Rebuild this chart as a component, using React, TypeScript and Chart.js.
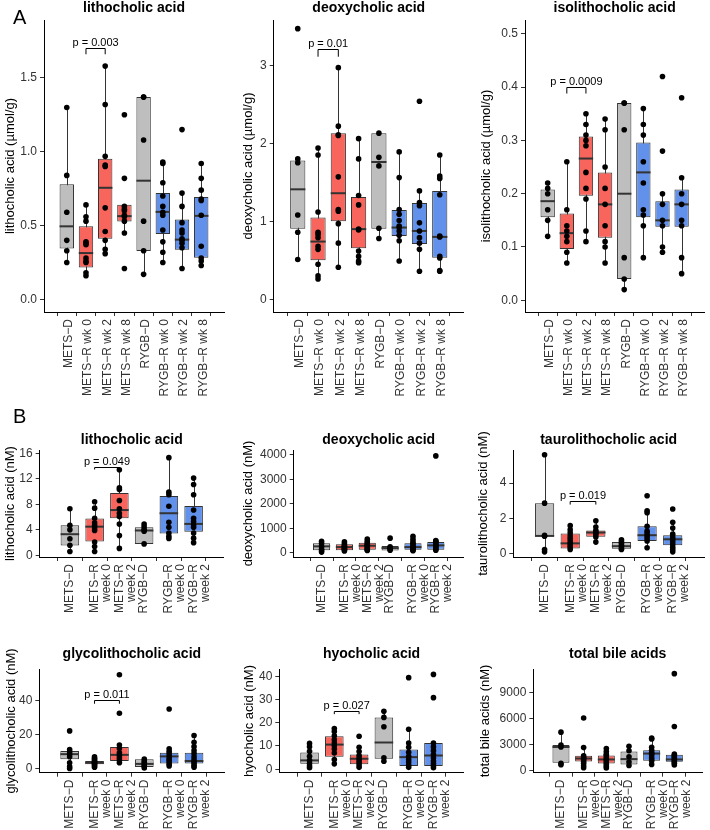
import React, { useEffect, useRef } from "react";
import { Chart, registerables } from "chart.js";

Chart.register(...registerables);

const FONT = "'Liberation Sans', Arial, Helvetica, sans-serif";
Chart.defaults.font.family = FONT;

const GRAY = "#BEBEBE";
const RED = "#F8655C";
const BLUE = "#6191EA";

// ---------- categories ----------
const catsA = ["METS−D", "METS−R wk 0", "METS−R wk 2", "METS−R wk 8", "RYGB−D", "RYGB−R wk 0", "RYGB−R wk 2", "RYGB−R wk 8"];
const colorsA = [GRAY, RED, RED, RED, GRAY, BLUE, BLUE, BLUE];
const catsB: (string | string[])[] = ["METS−D", ["METS−R", "week 0"], ["METS−R", "week 2"], "RYGB−D", ["RYGB−R", "week 0"], ["RYGB−R", "week 2"]];
const colorsB = [GRAY, RED, RED, GRAY, BLUE, BLUE];

// ---------- box summaries [lower whisker, q1, median, q3, upper whisker] and points ----------
// A: lithocholic acid (µmol/g)
const aLcaBox = [[0.25, 0.345, 0.495, 0.78, 1.3], [0.16, 0.216, 0.314, 0.495, 0.64], [0.31, 0.411, 0.756, 0.953, 1.58], [0.45, 0.527, 0.564, 0.641, 0.641], [0.17, 0.328, 0.804, 1.37, 1.37], [0.25, 0.443, 0.593, 0.72, 0.92], [0.21, 0.336, 0.405, 0.541, 0.72], [0.23, 0.282, 0.566, 0.693, 0.92]];
const aLcaPts = [[1.3, 0.84, 0.59, 0.4, 0.33, 0.25], [0.64, 0.56, 0.53, 0.39, 0.38, 0.37, 0.28, 0.26, 0.25, 0.18, 0.16], [1.58, 1.32, 0.97, 0.91, 0.9, 0.62, 0.46, 0.4, 0.34, 0.31], [1.25, 0.82, 0.63, 0.61, 0.6, 0.57, 0.56, 0.53, 0.45, 0.21], [1.37, 1.37, 1.08, 0.53, 0.33, 0.17], [0.93, 0.92, 0.79, 0.7, 0.63, 0.59, 0.57, 0.47, 0.39, 0.32, 0.25], [1.15, 0.72, 0.63, 0.52, 0.47, 0.45, 0.41, 0.4, 0.38, 0.35, 0.21], [0.92, 0.82, 0.74, 0.68, 0.67, 0.57, 0.36, 0.28, 0.26, 0.23]];
// A: deoxycholic acid (µmol/g)
const aDcaBox = [[0.51, 0.906, 1.41, 1.78, 1.8], [0.26, 0.5, 0.74, 1.05, 1.94], [0.41, 1.0, 1.36, 2.13, 2.97], [0.47, 0.655, 0.9, 1.31, 2.06], [0.78, 0.906, 1.76, 2.13, 2.13], [0.49, 0.81, 0.92, 1.145, 1.89], [0.36, 0.71, 0.876, 1.235, 1.39], [0.36, 0.534, 0.8, 1.39, 1.85]];
const aDcaPts = [[3.47, 1.8, 1.75, 1.08, 0.86, 0.51], [1.94, 1.85, 1.12, 0.86, 0.83, 0.79, 0.68, 0.64, 0.45, 0.3, 0.26], [2.97, 2.22, 2.11, 2.1, 1.57, 1.15, 1.13, 0.97, 0.72, 0.41], [2.06, 1.8, 1.33, 1.21, 0.9, 0.89, 0.62, 0.55, 0.49, 0.47], [2.13, 1.82, 1.71, 0.91, 0.78], [1.89, 1.56, 1.15, 1.09, 1.01, 0.94, 0.92, 0.875, 0.82, 0.75, 0.49], [2.54, 1.39, 1.24, 1.2, 0.98, 0.875, 0.79, 0.72, 0.64, 0.36], [1.85, 1.58, 1.55, 1.34, 0.81, 0.8, 0.55, 0.53, 0.37, 0.36]];
// A: isolithocholic acid (µmol/g)
const aIsoBox = [[0.12, 0.156, 0.186, 0.208, 0.22], [0.07, 0.096, 0.126, 0.163, 0.26], [0.11, 0.196, 0.266, 0.3075, 0.35], [0.07, 0.1175, 0.18, 0.24, 0.34], [0.02, 0.04, 0.2, 0.37, 0.37], [0.08, 0.156, 0.24, 0.296, 0.36], [0.09, 0.138, 0.15, 0.186, 0.2], [0.05, 0.138, 0.18, 0.208, 0.23]];
const aIsoPts = [[0.22, 0.21, 0.2, 0.17, 0.15, 0.12], [0.26, 0.17, 0.14, 0.13, 0.12, 0.11, 0.09, 0.07], [0.35, 0.33, 0.31, 0.3, 0.29, 0.24, 0.21, 0.19, 0.13, 0.11], [0.34, 0.32, 0.25, 0.21, 0.18, 0.14, 0.11, 0.1, 0.07], [0.37, 0.37, 0.32, 0.08, 0.04, 0.02], [0.36, 0.33, 0.31, 0.26, 0.22, 0.17, 0.16, 0.14, 0.08], [0.42, 0.28, 0.2, 0.18, 0.15, 0.14, 0.1, 0.09], [0.38, 0.23, 0.2, 0.18, 0.15, 0.14, 0.08, 0.05]];
// B: lithocholic acid (nM)
const bLcaBox = [[0.6, 1.56, 3.32, 4.73, 7.3], [0.6, 2.18, 4.5, 5.77, 8.4], [1.1, 5.82, 7.1, 9.77, 13.4], [1.77, 1.77, 3.9, 4.4, 4.9], [2.65, 3.43, 6.6, 9.3, 15.3], [2.0, 3.69, 4.93, 7.74, 12.1]];
const bLcaPts = [[7.3, 4.7, 4.0, 2.6, 1.6, 0.6], [8.4, 7.4, 5.8, 5.1, 4.7, 4.3, 3.9, 2.1, 1.4, 0.6], [13.4, 10.6, 10.3, 8.6, 7.3, 6.6, 6.1, 4.9, 3.1, 1.1], [4.9, 4.5, 4.1, 3.8, 1.8], [15.3, 9.9, 9.5, 7.7, 5.2, 4.4, 3.5, 3.0, 2.65], [12.1, 11.1, 9.5, 7.1, 5.8, 5.3, 4.8, 4.4, 3.5, 2.7, 2.0]];
// B: deoxycholic acid (nM)
const bDcaBox = [[30, 110, 265, 395, 470], [80, 110, 235, 350, 450], [100, 125, 290, 415, 560], [100, 100, 195, 280, 280], [90, 125, 235, 390, 680], [110, 125, 305, 445, 500]];
const bDcaPts = [[470, 380, 260, 150, 90, 30], [450, 380, 320, 280, 250, 220, 190, 150, 120, 80], [560, 460, 400, 350, 310, 280, 230, 170, 130, 100], [600, 250, 200, 160, 110], [680, 560, 450, 390, 330, 280, 240, 210, 180, 140, 120, 90], [3960, 500, 470, 430, 380, 330, 290, 250, 200, 150, 110]];
// B: taurolithocholic acid (nM)
const bTlcaBox = [[0.12, 1.0, 1.02, 2.87, 5.6], [0.25, 0.31, 0.6, 1.15, 1.6], [0.67, 0.98, 1.21, 1.33, 1.87], [0.25, 0.3, 0.44, 0.67, 0.8], [0.35, 0.73, 1.06, 1.56, 2.44], [0.12, 0.5, 0.83, 1.06, 1.79]];
const bTlcaPts = [[5.6, 2.87, 1.05, 1.0, 0.25, 0.12], [1.6, 1.37, 1.2, 1.02, 0.87, 0.73, 0.6, 0.48, 0.38, 0.25], [1.87, 1.52, 1.33, 1.25, 1.17, 1.08, 0.96, 0.67], [0.8, 0.7, 0.6, 0.5, 0.4, 0.3, 0.25], [3.29, 2.44, 2.33, 1.56, 1.29, 1.15, 1.02, 0.88, 0.73, 0.35], [2.54, 1.79, 1.46, 1.12, 0.96, 0.83, 0.69, 0.54, 0.38, 0.25, 0.12]];
// B: glycolithocholic acid (nM)
const bGlcaBox = [[0.2, 5.55, 8.6, 10.5, 11.3], [1.0, 2.7, 3.6, 4.6, 7.0], [3.6, 4.6, 8.2, 12.8, 14.0], [0.5, 1.15, 2.9, 5.55, 5.8], [1.7, 3.1, 7.3, 9.4, 11.7], [1.0, 3.1, 4.6, 9.4, 19.5]];
const bGlcaPts = [[22.2, 11.3, 9.95, 8.6, 7.1, 3.6, 1.3, 0.2], [7.0, 6.2, 5.5, 4.8, 4.2, 3.7, 3.2, 2.8, 2.2, 1.6, 1.0], [55.1, 32.5, 14.0, 11.9, 9.4, 8.0, 6.5, 5.2, 3.6], [5.8, 4.8, 3.9, 2.9, 2.0, 1.2, 0.5], [35.0, 11.7, 10.3, 9.0, 7.5, 6.1, 5.0, 3.8, 2.7, 1.7], [19.5, 15.5, 13.0, 10.7, 9.0, 7.1, 5.4, 4.2, 3.1, 1.9, 1.0]];
// B: hyocholic acid (nM)
const bHcaBox = [[0.6, 2.4, 3.8, 7.2, 11.1], [2.3, 5.35, 10.6, 14.2, 17.5], [0.8, 2.1, 4.5, 6.3, 9.4], [3.4, 4.5, 11.5, 22.3, 24.9], [0.8, 1.4, 5.2, 8.5, 17.2], [0.6, 1.4, 5.9, 11.3, 11.3]];
const bHcaPts = [[11.1, 9.7, 7.7, 5.6, 3.8, 2.5, 1.4, 0.6], [17.5, 16.2, 14.4, 12.7, 11.3, 10.1, 8.7, 7.0, 4.2, 2.3], [14.2, 9.4, 7.6, 5.9, 4.8, 3.8, 2.8, 1.8, 0.8], [24.9, 22.3, 18.3, 4.9, 3.4], [39.4, 17.2, 11.3, 9.4, 7.3, 5.6, 4.2, 3.1, 1.8, 0.8], [40.8, 30.8, 11.3, 9.6, 8.0, 6.3, 4.9, 3.5, 2.4, 1.4, 0.6]];
// B: total bile acids (nM)
const bTotBox = [[680, 910, 2730, 2960, 4440], [340, 1060, 1400, 1710, 2660], [300, 835, 1290, 1750, 2550], [600, 720, 1330, 2200, 2800], [700, 1140, 1970, 2350, 3750], [650, 1020, 1290, 1820, 1900]];
const bTotPts = [[4440, 2960, 2730, 835, 680], [6075, 2660, 1710, 1550, 1400, 1250, 1060, 850, 570, 340], [2550, 2200, 1900, 1750, 1500, 1300, 1100, 900, 700, 500, 300], [2800, 2300, 1600, 1000, 600], [3750, 3650, 2700, 2350, 2100, 1950, 1800, 1500, 1250, 1100, 700], [11200, 5100, 1900, 1750, 1600, 1450, 1300, 1150, 1000, 850, 650]];

// ---------- y ticks ----------
const ticksALca = [0, 0.5, 1, 1.5];
const labelsALca = ["0.0", "0.5", "1.0", "1.5"];
const ticksADca = [0, 1, 2, 3];
const labelsADca = ["0", "1", "2", "3"];
const ticksAIso = [0, 0.1, 0.2, 0.3, 0.4, 0.5];
const labelsAIso = ["0.0", "0.1", "0.2", "0.3", "0.4", "0.5"];
const ticksBLca = [0, 4, 8, 12, 16];
const ticksBDca = [0, 1000, 2000, 3000, 4000];
const ticksBTlca = [0, 2, 4];
const ticksBGlca = [0, 20, 40];
const ticksBHca = [0, 10, 20, 30, 40];
const ticksBTot = [0, 3000, 6000, 9000];

type PVal = { a: number; b: number; y: number; tick: number; text: string };
type Panel = {
  left: number; top: number; w: number; h: number;
  axisLeft: number; areaRight: number; areaTop: number; areaBottom: number;
  titleCenter: number; yTitleX: number; labelOffset: number;
  title: string; yTitle: string;
  cats: (string | string[])[]; colors: string[];
  boxes: number[][]; pts: number[][];
  yMin: number; yMax: number; yTicks: number[]; yLabels: string[];
  p?: PVal;
};

const str = (a: number[]) => a.map((v) => String(v));

const rowA = { top: 0, h: 400, areaTop: 20, areaBottom: 312, titleCenter: 8.5, labelOffset: 2 };
const rowB1 = { top: 400, h: 225, areaTop: 50, areaBottom: 157, titleCenter: 40.5, labelOffset: 0 };
const rowB2 = { top: 625, h: 205, areaTop: 44.3, areaBottom: 147.7, titleCenter: 29.5, labelOffset: 0 };

const panels: Panel[] = [
  { ...rowA, left: 0, w: 237, axisLeft: 44, areaRight: 224, yTitleX: 10, title: "lithocholic acid", yTitle: "lithocholic acid (µmol/g)", cats: catsA, colors: colorsA, boxes: aLcaBox, pts: aLcaPts, yMin: -0.085, yMax: 1.892, yTicks: ticksALca, yLabels: labelsALca, p: { a: 1, b: 2, y: 1.7, tick: 1.66, text: "p = 0.003" } },
  { ...rowA, left: 237, w: 237, axisLeft: 36.7, areaRight: 226.8, yTitleX: 11, title: "deoxycholic acid", yTitle: "deoxycholic acid (µmol/g)", cats: catsA, colors: colorsA, boxes: aDcaBox, pts: aDcaPts, yMin: -0.163, yMax: 3.581, yTicks: ticksADca, yLabels: labelsADca, p: { a: 1, b: 2, y: 3.21, tick: 3.11, text: "p = 0.01" } },
  { ...rowA, left: 474, w: 236, axisLeft: 51, areaRight: 230.3, yTitleX: 12.7, title: "isolithocholic acid", yTitle: "isolithocholic acid (µmol/g)", cats: catsA, colors: colorsA, boxes: aIsoBox, pts: aIsoPts, yMin: -0.022, yMax: 0.526, yTicks: ticksAIso, yLabels: labelsAIso, p: { a: 1, b: 2, y: 0.4, tick: 0.388, text: "p = 0.0009" } },
  { ...rowB1, left: 0, w: 237, axisLeft: 39.7, areaRight: 223.8, yTitleX: 10, title: "lithocholic acid", yTitle: "lithocholic acid (nM)", cats: catsB, colors: colorsB, boxes: bLcaBox, pts: bLcaPts, yMin: -0.25, yMax: 16.5, yTicks: ticksBLca, yLabels: str(ticksBLca), p: { a: 1, b: 2, y: 13.9, tick: 13.45, text: "p = 0.049" } },
  { ...rowB1, left: 237, w: 237, axisLeft: 56.7, areaRight: 226.7, yTitleX: 11, title: "deoxycholic acid", yTitle: "deoxycholic acid (nM)", cats: catsB, colors: colorsB, boxes: bDcaBox, pts: bDcaPts, yMin: -170, yMax: 4200, yTicks: ticksBDca, yLabels: str(ticksBDca) },
  { ...rowB1, left: 474, w: 236, axisLeft: 39.3, areaRight: 230, yTitleX: 9, title: "taurolithocholic acid", yTitle: "taurolithocholic acid (nM)", cats: catsB, colors: colorsB, boxes: bTlcaBox, pts: bTlcaPts, yMin: -0.17, yMax: 5.87, yTicks: ticksBTlca, yLabels: str(ticksBTlca), p: { a: 1, b: 2, y: 3.0, tick: 2.79, text: "p = 0.019" } },
  { ...rowB2, left: 0, w: 237, axisLeft: 39.3, areaRight: 224.4, yTitleX: 11, title: "glycolithocholic acid", yTitle: "glycolithocholic acid (nM)", cats: catsB, colors: colorsB, boxes: bGlcaBox, pts: bGlcaPts, yMin: -2.25, yMax: 58.25, yTicks: ticksBGlca, yLabels: str(ticksBGlca), p: { a: 1, b: 2, y: 40, tick: 38.1, text: "p = 0.011" } },
  { ...rowB2, left: 237, w: 237, axisLeft: 42.3, areaRight: 226.7, yTitleX: 12.5, title: "hyocholic acid", yTitle: "hyocholic acid (nM)", cats: catsB, colors: colorsB, boxes: bHcaBox, pts: bHcaPts, yMin: -1.5, yMax: 43, yTicks: ticksBHca, yLabels: str(ticksBHca), p: { a: 1, b: 2, y: 25.1, tick: 23.7, text: "p = 0.027" } },
  { ...rowB2, left: 474, w: 236, axisLeft: 59.3, areaRight: 228, yTitleX: 11, title: "total bile acids", yTitle: "total bile acids (nM)", cats: catsB, colors: colorsB, boxes: bTotBox, pts: bTotPts, yMin: -240, yMax: 11700, yTicks: ticksBTot, yLabels: str(ticksBTot) },
];

const boxExtras = {
  id: "boxExtras",
  beforeDatasetsDraw(chart: any, _args: any, opts: any) {
    const { ctx } = chart;
    const x = chart.scales.x;
    const y = chart.scales.y;
    ctx.save();
    ctx.strokeStyle = "#333333";
    ctx.lineWidth = 1;
    (opts.boxes as number[][]).forEach((b, i) => {
      const px = Math.round(x.getPixelForValue(i)) + 0.5;
      ctx.beginPath();
      ctx.moveTo(px, y.getPixelForValue(b[0]));
      ctx.lineTo(px, y.getPixelForValue(b[4]));
      ctx.stroke();
    });
    ctx.restore();
  },
  afterDatasetDraw(chart: any, args: any, opts: any) {
    if (args.index !== 0) return;
    const { ctx } = chart;
    const y = chart.scales.y;
    const meta = chart.getDatasetMeta(0);
    ctx.save();
    ctx.strokeStyle = "#333333";
    ctx.lineWidth = 2;
    meta.data.forEach((el: any, i: number) => {
      const b = opts.boxes[i];
      const py = y.getPixelForValue(b[2]);
      ctx.beginPath();
      ctx.moveTo(el.x - el.width / 2, py);
      ctx.lineTo(el.x + el.width / 2, py);
      ctx.stroke();
    });
    ctx.restore();
  },
  afterDatasetsDraw(chart: any, _args: any, opts: any) {
    const p = opts.p as PVal | undefined;
    if (!p) return;
    const { ctx } = chart;
    const x = chart.scales.x;
    const y = chart.scales.y;
    const x1 = x.getPixelForValue(p.a);
    const x2 = x.getPixelForValue(p.b);
    const yb = Math.round(y.getPixelForValue(p.y)) + 0.5;
    const yt = y.getPixelForValue(p.tick);
    ctx.save();
    ctx.strokeStyle = "#000";
    ctx.lineWidth = 1;
    ctx.beginPath();
    ctx.moveTo(x1, yt);
    ctx.lineTo(x1, yb);
    ctx.lineTo(x2, yb);
    ctx.lineTo(x2, yt);
    ctx.stroke();
    ctx.fillStyle = "#000";
    ctx.font = `11px ${FONT}`;
    ctx.textAlign = "center";
    ctx.textBaseline = "alphabetic";
    ctx.fillText(p.text, (x1 + x2) / 2, yb - 3);
    ctx.restore();
  },
};

function BoxPanel({ cfg }: { cfg: Panel }) {
  const ref = useRef<HTMLCanvasElement | null>(null);
  useEffect(() => {
    if (!ref.current) return;
    const c = cfg;
    const n = c.cats.length;
    const titleTop = c.titleCenter - 8.4;
    const chart = new Chart(ref.current, {
      type: "bar",
      data: {
        datasets: [
          {
            type: "bar",
            data: c.boxes.map((b, i) => ({ x: i, y: [b[1], b[3]] })) as any,
            backgroundColor: c.colors,
            borderColor: "#333333",
            borderWidth: 1,
            borderSkipped: false,
            barPercentage: 0.75,
            categoryPercentage: 1,
            order: 1,
          } as any,
          {
            type: "scatter",
            data: c.pts.flatMap((arr, i) => arr.map((v) => ({ x: i, y: v }))),
            pointRadius: 2.8,
            pointBackgroundColor: "#000",
            pointBorderWidth: 0,
            order: 0,
          } as any,
        ],
      },
      options: {
        animation: false,
        responsive: false,
        events: [],
        layout: { padding: { left: 0, right: c.w - c.areaRight, top: titleTop, bottom: 0 } },
        plugins: {
          legend: { display: false },
          tooltip: { enabled: false },
          title: {
            display: true,
            text: c.title,
            fullSize: false,
            color: "#000",
            font: { size: 14, weight: "bold", family: FONT, lineHeight: 1.2 },
            padding: { top: 0, bottom: c.areaTop - titleTop - 16.8 },
          },
          boxExtras: { boxes: c.boxes, p: c.p },
        } as any,
        scales: {
          x: {
            type: "linear",
            min: -0.6,
            max: n - 0.4,
            afterBuildTicks: (s: any) => {
              s.ticks = c.cats.map((_, i) => ({ value: i }));
            },
            afterFit: (s: any) => {
              s.height = c.h - c.areaBottom;
              s.paddingLeft = 0;
              s.paddingRight = 0;
            },
            ticks: {
              autoSkip: false,
              minRotation: 90,
              maxRotation: 90,
              padding: 3,
              labelOffset: c.labelOffset,
              color: "#333333",
              font: { size: 12, lineHeight: 1.0, family: FONT },
              callback: (_v: any, i: number) => c.cats[i] as any,
            },
            grid: { drawOnChartArea: false, drawTicks: true, tickLength: 4, tickColor: "#333333", tickWidth: 1 },
            border: { display: true, color: "#000", width: 1 },
          },
          y: {
            type: "linear",
            min: c.yMin,
            max: c.yMax,
            bounds: "data",
            afterBuildTicks: (s: any) => {
              s.ticks = c.yTicks.map((v) => ({ value: v }));
            },
            afterFit: (s: any) => {
              s.width = c.axisLeft;
              s.paddingTop = 0;
              s.paddingBottom = 0;
            },
            title: {
              display: true,
              text: c.yTitle,
              color: "#000",
              font: { size: 13, family: FONT, lineHeight: 1.2 },
              padding: { top: Math.max(0, c.yTitleX - 7.8), bottom: 0 },
            },
            ticks: {
              padding: 3,
              color: "#333333",
              font: { size: 12, family: FONT },
              callback: (_v: any, i: number) => c.yLabels[i],
            },
            grid: { drawOnChartArea: false, drawTicks: true, tickLength: 4, tickColor: "#333333", tickWidth: 1 },
            border: { display: true, color: "#000", width: 1 },
          },
        } as any,
      },
      plugins: [boxExtras as any],
    });
    return () => chart.destroy();
  }, [cfg]);
  return (
    <div style={{ position: "absolute", left: cfg.left, top: cfg.top, width: cfg.w, height: cfg.h }}>
      <canvas ref={ref} width={cfg.w} height={cfg.h} style={{ display: "block", width: cfg.w, height: cfg.h }} />
    </div>
  );
}

export default function App() {
  const letter: React.CSSProperties = { position: "absolute", fontFamily: FONT, fontSize: 20, lineHeight: "20px", color: "#000" };
  return (
    <div style={{ position: "absolute", left: 0, top: 0, width: 710, height: 830, background: "#fff", overflow: "hidden" }}>
      {panels.map((p, i) => (
        <BoxPanel key={i} cfg={p} />
      ))}
      <div style={{ ...letter, left: 13, top: 7 }}>A</div>
      <div style={{ ...letter, left: 13, top: 406 }}>B</div>
    </div>
  );
}
